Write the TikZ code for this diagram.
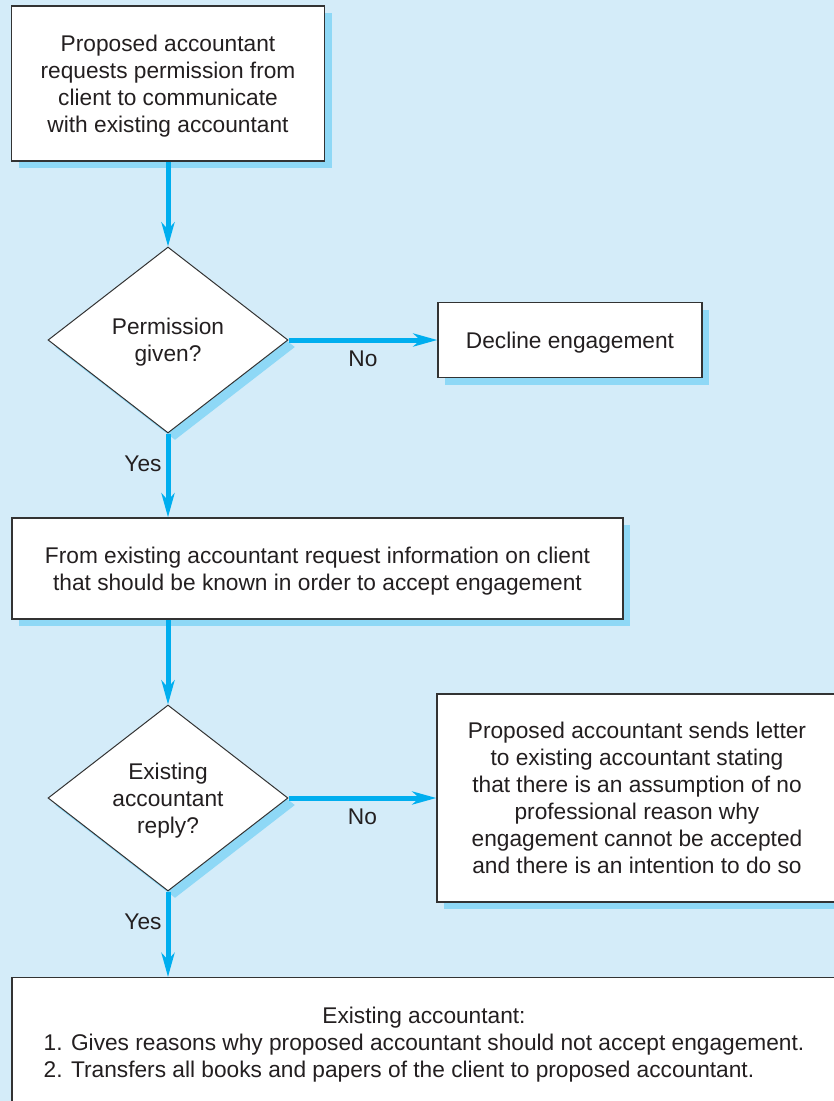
\documentclass[tikz,border=0pt]{standalone}
\usepackage{fontspec}
\setmainfont{Liberation Sans}
\usetikzlibrary{shapes.geometric,shadows,arrows.meta}
\definecolor{bgc}{HTML}{D4ECF9}
\definecolor{shc}{HTML}{8ED8F6}
\definecolor{arc}{HTML}{00AEEF}
\definecolor{bdc}{HTML}{333333}
\definecolor{txc}{HTML}{231F20}
\begin{document}
\begin{tikzpicture}[x=1pt,y=-1pt,
  every node/.style={text=txc, font=\fontsize{22.7}{27}\selectfont},
  shadowst/.style={drop shadow={shadow xshift=7pt, shadow yshift=-7pt, fill=shc, opacity=1}},
  boxst/.style={rectangle, draw=bdc, line width=1.3pt, fill=white, inner sep=0pt, align=center, text depth=0pt, shadowst},
  decst/.style={diamond, draw=bdc, line width=1pt, fill=white, aspect=1.29, minimum width=240pt, minimum height=186pt, inner sep=0pt, align=center, text depth=0pt, shadowst},
  flow/.style={draw=arc, line width=5pt, -{Stealth[length=24pt,width=13pt,inset=7pt]}},
  lab/.style={inner sep=0pt}]
\useasboundingbox (0,0) rectangle (834,1101);
\fill[bgc] (0,0) rectangle (834,1101);
\clip (0,0) rectangle (834,1101);

\node[boxst, minimum width=313pt, minimum height=155pt] (b1) at (168,83.5)
  {Proposed accountant\\requests permission from\\client to communicate\\with existing accountant};
\node[decst] (d1) at (168,340) {Permission\\given?};
\node[boxst, minimum width=264pt, minimum height=75pt] (dec) at (570,340) {Decline engagement};
\node[boxst, minimum width=611pt, minimum height=101pt] (b2) at (317.5,568.5)
  {From existing accountant request information on client\\that should be known in order to accept engagement};
\node[decst] (d2) at (168,798) {Existing\\accountant\\reply?};
\node[boxst, minimum width=400pt, minimum height=208pt] (b3) at (637,798)
  {Proposed accountant sends letter\\to existing accountant stating\\that there is an assumption of no\\professional reason why\\engagement cannot be accepted\\and there is an intention to do so};
\node[boxst, text depth={}, minimum width=824pt, minimum height=138pt, anchor=north] (b4) at (424,977)
  {Existing accountant:\\\begin{tabular}[t]{@{}l@{}}1. Gives reasons why proposed accountant should not accept engagement.\\2. Transfers all books and papers of the client to proposed accountant.\end{tabular}};

\draw[flow] (b1.south) -- (d1.north);
\draw[flow] (d1.east) -- (dec.west) node[lab, midway, below=8pt] {No};
\draw[flow] (d1.south) -- (d1.south |- b2.north) node[lab, pos=0.36, left=4pt] {Yes};
\draw[flow] (b2.south -| d2.north) -- (d2.north);
\draw[flow] (d2.east) -- (b3.west) node[lab, midway, below=8pt] {No};
\draw[flow] (d2.south) -- (d2.south |- b4.north) node[lab, pos=0.36, left=4pt] {Yes};
\end{tikzpicture}
\end{document}
